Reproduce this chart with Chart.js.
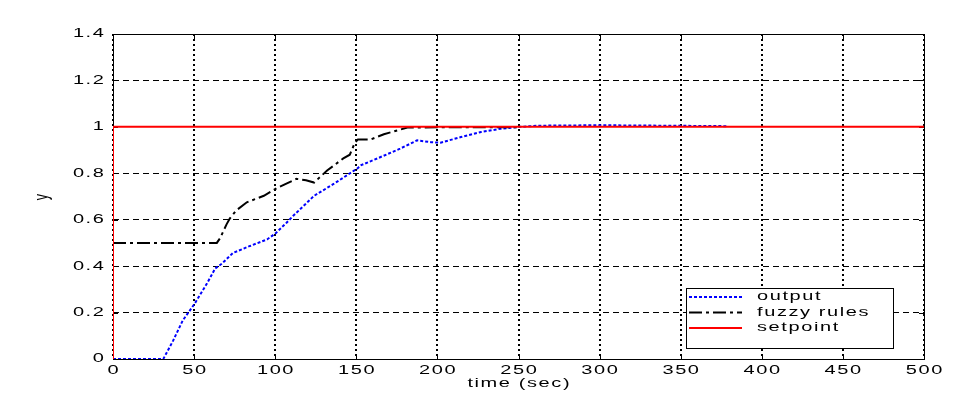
<!DOCTYPE html>
<html>
<head>
<meta charset="utf-8">
<script src="https://cdn.jsdelivr.net/npm/chart.js@4"></script>
<style>
  html, body { margin: 0; padding: 0; background: #fff; }
</style>
</head>
<body>
<canvas id="grafico" width="978" height="403"></canvas>
<script>
// tick labels
const xTickValues = [0, 50, 100, 150, 200, 250, 300, 350, 400, 450, 500];
const yTickValues = [0, 0.2, 0.4, 0.6, 0.8, 1, 1.2, 1.4];

// output (blue dotted)
const outputTime  = [0, 31, 37, 43, 50.5, 58, 63, 67, 74, 84.5, 95, 100, 107, 111, 124, 136, 150.5, 153, 165, 177, 187.5, 196, 202, 214.5, 227, 239, 251, 262, 300, 340, 379];
const outputValue = [0, 0, 0.078, 0.166, 0.24, 0.326, 0.39, 0.41, 0.457, 0.487, 0.515, 0.54, 0.587, 0.616, 0.703, 0.754, 0.82, 0.835, 0.87, 0.906, 0.942, 0.934, 0.932, 0.956, 0.978, 0.992, 1.0, 1.005, 1.007, 1.005, 1.003];

// fuzzy rules (black dash-dot)
const fuzzyTime  = [0, 64, 66, 68, 70, 72, 76, 82.5, 93, 101, 113, 119, 124, 132, 142, 146, 149, 151, 159, 167, 181.5, 200, 250];
const fuzzyValue = [0.5, 0.5, 0.52, 0.55, 0.58, 0.605, 0.64, 0.675, 0.703, 0.736, 0.776, 0.77, 0.76, 0.812, 0.864, 0.88, 0.93, 0.946, 0.946, 0.968, 0.997, 0.998, 0.998];

// setpoint (red)
const setpointTime  = [0, 0, 500];
const setpointValue = [0, 1, 1];

const xTitle = 'time (sec)';
const yTitle = 'y';

const pts = (xs, ys) => xs.map((x, i) => ({x: x, y: ys[i]}));

// the reference text is stretched sideways, so text is drawn with a scale
const ESTICA = 1.6;
function texto(ctx, str, x, y, align, rot) {
  ctx.save();
  ctx.translate(x, y);
  if (rot) {
    ctx.rotate(rot);
    ctx.scale(1, ESTICA);
  } else {
    ctx.scale(ESTICA, 1);
  }
  ctx.font = '12.5px "Liberation Sans"';
  ctx.letterSpacing = '1px';
  ctx.fillStyle = '#000';
  ctx.textAlign = align;
  ctx.textBaseline = 'middle';
  ctx.fillText(str, 0, 0);
  ctx.restore();
}

// box + inward ticks
const caixaPlugin = {
  id: 'caixa',
  beforeDatasetsDraw(chart) {
    const {ctx, chartArea: a, scales} = chart;
    ctx.save();
    ctx.strokeStyle = '#000';
    ctx.lineWidth = 1;
    ctx.setLineDash([]);
    ctx.beginPath();
    scales.x.ticks.forEach(t => {
      const px = Math.round(scales.x.getPixelForValue(t.value)) + 0.5;
      ctx.moveTo(px, a.bottom); ctx.lineTo(px, a.bottom - 5);
      ctx.moveTo(px, a.top); ctx.lineTo(px, a.top + 5);
    });
    scales.y.ticks.forEach(t => {
      const py = Math.round(scales.y.getPixelForValue(t.value)) + 0.5;
      ctx.moveTo(a.left, py); ctx.lineTo(a.left + 5, py);
      ctx.moveTo(a.right, py); ctx.lineTo(a.right - 5, py);
    });
    ctx.stroke();
    ctx.strokeRect(a.left + 0.5, a.top + 0.5, a.right - a.left, a.bottom - a.top);
    ctx.restore();
  }
};

// tick labels and axis titles
const textosPlugin = {
  id: 'textos',
  afterDraw(chart) {
    const {ctx, chartArea: a, scales} = chart;
    xTickValues.forEach(v => {
      texto(ctx, String(v), scales.x.getPixelForValue(v) + 0.8, 370.5, 'center');
    });
    yTickValues.forEach(v => {
      texto(ctx, String(v), 105.5, scales.y.getPixelForValue(v), 'right');
    });
    texto(ctx, xTitle, (a.left + a.right) / 2 + 0.8, 384, 'center');
    texto(ctx, yTitle, 42, (a.top + a.bottom) / 2, 'center', -Math.PI / 2);
  }
};

// legend inside the plot, bottom right
const legendaPlugin = {
  id: 'legendaCaixa',
  afterDraw(chart) {
    const ctx = chart.ctx;
    ctx.save();
    ctx.fillStyle = '#fff';
    ctx.strokeStyle = '#000';
    ctx.lineWidth = 1;
    ctx.setLineDash([]);
    ctx.fillRect(686.5, 288.5, 207, 60);
    ctx.strokeRect(686.5, 288.5, 207, 60);
    chart.data.datasets.forEach((ds, i) => {
      const y = 297 + i * 15.5;
      ctx.strokeStyle = ds.borderColor;
      ctx.lineWidth = 2;
      ctx.setLineDash(ds.borderDash || []);
      ctx.beginPath();
      ctx.moveTo(689, y);
      ctx.lineTo(742, y);
      ctx.stroke();
      texto(ctx, ds.label, 757, y, 'left');
    });
    ctx.restore();
  }
};

const config = {
  type: 'line',
  data: {
    datasets: [
      {
        label: 'output',
        data: pts(outputTime, outputValue),
        borderColor: '#0000ff',
        borderWidth: 2,
        borderDash: [3, 2],
        pointRadius: 0,
        tension: 0,
        order: 2
      },
      {
        label: 'fuzzy rules',
        data: pts(fuzzyTime, fuzzyValue),
        borderColor: '#000000',
        borderWidth: 2,
        borderDash: [13, 4, 3, 4],
        pointRadius: 0,
        tension: 0,
        order: 1
      },
      {
        label: 'setpoint',
        data: pts(setpointTime, setpointValue),
        borderColor: '#ff0000',
        borderWidth: 2,
        pointRadius: 0,
        tension: 0,
        order: 0
      }
    ]
  },
  options: {
    responsive: false,
    animation: false,
    events: [],
    layout: { padding: {top: 34, right: 54, left: 0, bottom: 0} },
    plugins: {
      legend: { display: false },
      tooltip: { enabled: false }
    },
    scales: {
      x: {
        type: 'linear',
        min: 0,
        max: 500,
        afterBuildTicks: s => { s.ticks = xTickValues.map(v => ({value: v})); },
        afterFit: s => { s.height = 44; },
        grid: { color: '#000', lineWidth: 2, drawTicks: false },
        border: { display: false, dash: [2, 3] },
        ticks: { display: false }
      },
      y: {
        min: 0,
        max: 1.4,
        afterBuildTicks: s => { s.ticks = yTickValues.map(v => ({value: v})); },
        afterFit: s => { s.width = 113; },
        grid: { color: '#000', lineWidth: 1, drawTicks: false },
        border: { display: false, dash: [6, 4] },
        ticks: { display: false }
      }
    }
  },
  plugins: [caixaPlugin, textosPlugin, legendaPlugin]
};

var meuGrafico = new Chart(document.getElementById('grafico'), config);
</script>
</body>
</html>
